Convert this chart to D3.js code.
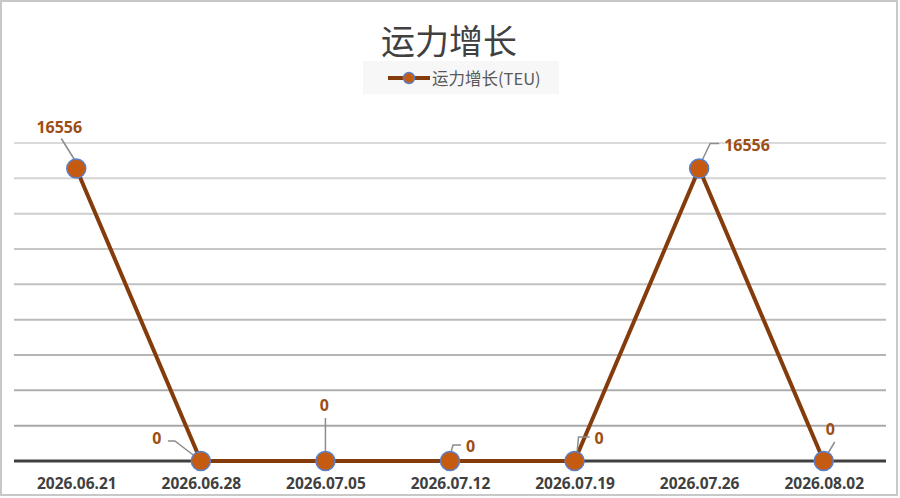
<!DOCTYPE html>
<html><head><meta charset="utf-8">
<script src="https://cdn.jsdelivr.net/npm/d3@7"></script>
<style>html,body{margin:0;padding:0;background:#fff;}svg{display:block;}</style>
</head><body>
<svg id="chart" width="900" height="498"></svg>
<script>
const categories = ["2026.06.21","2026.06.28","2026.07.05","2026.07.12","2026.07.19","2026.07.26","2026.08.02"];
const values = [16556, 0, 0, 0, 0, 16556, 0];
const yTicks = [0,2000,4000,6000,8000,10000,12000,14000,16000,18000];
const seriesName = "运力增长(TEU)";
const titleText = "运力增长";

// label placement (style): label offset and leader path relative to point
const labelStyle = [
  {dx:-17, dy:-42, anchor:"middle", leader:[[-15,-30],[0,-6]]},
  {dx:-44, dy:-23, anchor:"middle", leader:[[-33,-20],[-26,-20],[-5,-4]]},
  {dx:-1, dy:-56, anchor:"middle", leader:[[0,-43],[0,-7]]},
  {dx:16, dy:-15, anchor:"start", leader:[[11,-16],[3,-16],[0,-5]]},
  {dx:20, dy:-23, anchor:"start", leader:[[15,-24],[4,-24],[2,-4]]},
  {dx:25, dy:-24, anchor:"start", leader:[[20,-25],[11,-25],[1,-4]]},
  {dx:2, dy:-32, anchor:"start", leader:[[11,-19],[2,-4]]}
];

const svg = d3.select("#chart");
const plot = {left:14, right:886, top:143, bottom:461};

svg.append("rect").attr("x",1).attr("y",1).attr("width",896).attr("height",494)
  .attr("fill","#fff").attr("stroke","#c8c8c8").attr("stroke-width",2);

const x = d3.scalePoint().domain(categories).range([plot.left, plot.right]).padding(0.5);
const y = d3.scaleLinear().domain([0,18000]).range([plot.bottom, plot.top]);

const gridColor = d3.scaleLinear().domain([18000,2000]).range(["#dadada","#a8a8a8"]);
svg.append("g").selectAll("line").data(yTicks.filter(t=>t>0)).join("line")
  .attr("x1",plot.left).attr("x2",plot.right)
  .attr("y1",d=>y(d)).attr("y2",d=>y(d))
  .attr("stroke",d=>gridColor(d)).attr("stroke-width",2);

const xAxis = d3.axisBottom(x).tickSize(0).tickPadding(17);
const gx = svg.append("g").attr("transform",`translate(0,${plot.bottom})`).call(xAxis);
gx.select(".domain").attr("stroke","#404040").attr("stroke-width",3)
  .attr("d",`M${plot.left},0H${plot.right}`);
gx.selectAll("text").attr("font-family","'Noto Sans',sans-serif").attr("font-weight","bold")
  .attr("font-size","15.5px").attr("fill","#404040");

const line = d3.line().x((d,i)=>x(categories[i])).y(d=>y(d));
svg.append("path").datum(values).attr("d",line).attr("fill","none")
  .attr("stroke","#843c0c").attr("stroke-width",4).attr("stroke-linejoin","round");

svg.append("g").selectAll("path").data(values).join("path")
  .attr("d",(d,i)=>{
    const px=x(categories[i]), py=y(d);
    return "M"+labelStyle[i].leader.map(p=>[px+p[0],py+p[1]].join(",")).join("L");
  })
  .attr("fill","none").attr("stroke","#8c8c8c").attr("stroke-width",1.5);

svg.append("g").selectAll("circle").data(values).join("circle")
  .attr("cx",(d,i)=>x(categories[i])).attr("cy",d=>y(d)).attr("r",9.5)
  .attr("fill","#c55a11").attr("stroke","#5b7fc7").attr("stroke-width",1.5);

svg.append("g").selectAll("text").data(values).join("text")
  .attr("x",(d,i)=>x(categories[i])+labelStyle[i].dx)
  .attr("y",(d,i)=>y(d)+labelStyle[i].dy)
  .attr("text-anchor",(d,i)=>labelStyle[i].anchor)
  .attr("dominant-baseline","central")
  .attr("font-family","'Noto Sans',sans-serif").attr("font-weight","bold")
  .attr("font-size","16px").attr("fill","#9c4e14")
  .text(d=>d3.format("d")(d));

svg.append("text").attr("x",449).attr("y",39).attr("text-anchor","middle")
  .attr("dominant-baseline","central")
  .attr("font-family","'Noto Sans CJK SC',sans-serif").attr("font-size","34px")
  .attr("fill","#404040").text(titleText);

const lg = svg.append("g");
lg.append("rect").attr("x",363).attr("y",61).attr("width",196).attr("height",33).attr("fill","#f7f7f7");
lg.append("line").attr("x1",388).attr("x2",430).attr("y1",78).attr("y2",78)
  .attr("stroke","#843c0c").attr("stroke-width",4);
lg.append("circle").attr("cx",409).attr("cy",78).attr("r",5.5)
  .attr("fill","#c55a11").attr("stroke","#5b7fc7").attr("stroke-width",1.5);
lg.append("text").attr("x",432).attr("y",78).attr("dominant-baseline","central")
  .attr("font-family","'Noto Sans CJK SC',sans-serif").attr("font-size","16.5px")
  .attr("fill","#595959").text(seriesName);
</script>
</body></html>
